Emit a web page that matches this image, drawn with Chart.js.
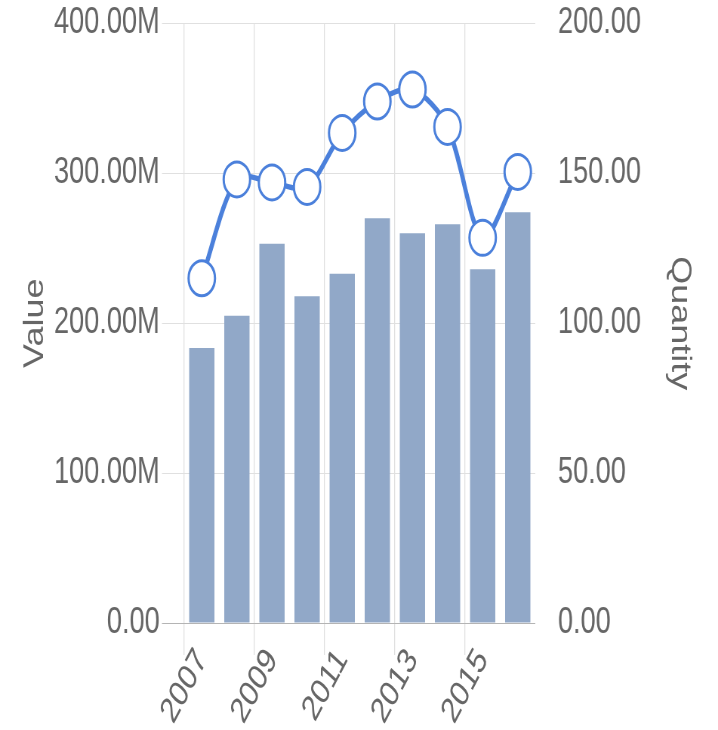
<!DOCTYPE html>
<html>
<head>
<meta charset="utf-8">
<title>Value / Quantity</title>
<script src="https://cdn.jsdelivr.net/npm/chart.js@4.4.1/dist/chart.umd.min.js"></script>
<style>
    html, body { margin: 0; padding: 0; background: #fff; overflow: hidden; }
    /* chart is drawn wide and squeezed horizontally into the window */
    #wrap { width: 951px; height: 730px; transform: scaleX(0.755); transform-origin: 0 0; }
    #chart { display: block; }
</style>
</head>
<body>
<div id="wrap"><canvas id="chart" width="951" height="730"></canvas></div>
<script>
// Dados
const years = ['2007', '2008', '2009', '2010', '2011', '2012', '2013', '2014', '2015', '2016'];
const values = [183.5e6, 205e6, 253e6, 218e6, 233e6, 270e6, 260e6, 266e6, 236e6, 274e6];
const quantities = [115, 148, 147, 145.5, 163.5, 174, 178, 165.5, 128.5, 150.5];

const valueMax = 400e6;
const valueStep = 100e6;
const quantityMax = 200;
const quantityStep = 50;

// Cores
const barColor = '#91a8c8';
const lineColor = '#4b80db';
const gridColor = '#e0e0e0';
const axisColor = '#b4b4b4';
const textColor = '#666';

Chart.defaults.font.family = "'Liberation Sans', Arial, sans-serif";
Chart.defaults.font.size = 36;
Chart.defaults.color = textColor;

// lineHeight controla o espaço acima da área do gráfico
const tickFont = { size: 36, lineHeight: 1.14 };

const ctx = document.getElementById('chart');
new Chart(ctx, {
    type: 'bar',
    data: {
        labels: years,
        datasets: [{
            type: 'line',
            label: 'Quantity',
            data: quantities,
            yAxisID: 'y1',
            borderColor: lineColor,
            borderWidth: 5.5,
            tension: 0.3,
            pointRadius: 17.5,
            pointBorderWidth: 3,
            pointBackgroundColor: '#fff',
            pointBorderColor: lineColor,
            order: 0
        }, {
            type: 'bar',
            label: 'Value',
            data: values,
            yAxisID: 'y',
            backgroundColor: barColor,
            order: 1
        }]
    },
    options: {
        responsive: false,
        animation: false,
        layout: { padding: 0 },
        plugins: {
            legend: { display: false },
            tooltip: { enabled: false }
        },
        scales: {
            x: {
                offset: true,
                grid: {
                    offset: true,
                    // linha só a cada dois anos, sem a linha final
                    color: c => (c.type === 'tick' && c.index % 2 === 0) ? gridColor : 'transparent',
                    lineWidth: 1.3,
                    tickLength: 32
                },
                border: { display: false },
                ticks: {
                    autoSkip: false,
                    minRotation: 55,
                    maxRotation: 55,
                    padding: -13,
                    font: tickFont,
                    callback: function(v, i) {
                        return i % 2 === 0 ? this.getLabelForValue(v) : '';
                    }
                },
                afterFit: s => { s.height = 107; }
            },
            y: {
                position: 'left',
                min: 0,
                max: valueMax,
                ticks: {
                    stepSize: valueStep,
                    padding: 3,
                    font: tickFont,
                    callback: v => v === 0 ? '0.00' : (v / 1e6).toFixed(2) + 'M'
                },
                grid: {
                    color: c => (c.tick && c.tick.value === 0) ? axisColor : gridColor,
                    tickLength: 29.5
                },
                border: { display: false },
                title: {
                    display: true,
                    text: 'Value',
                    font: { size: 36 },
                    padding: { top: 25, bottom: 0 }
                },
                afterFit: s => { s.width = 244; }
            },
            y1: {
                position: 'right',
                min: 0,
                max: quantityMax,
                ticks: {
                    stepSize: quantityStep,
                    padding: 3,
                    font: tickFont,
                    callback: v => v.toFixed(2)
                },
                grid: {
                    drawOnChartArea: false,
                    color: 'transparent',
                    tickLength: 27
                },
                border: { display: false },
                title: {
                    display: true,
                    text: 'Quantity',
                    font: { size: 36 },
                    padding: { top: 29, bottom: 0 }
                },
                afterFit: s => { s.width = 242; }
            }
        }
    }
});
</script>
</body>
</html>
